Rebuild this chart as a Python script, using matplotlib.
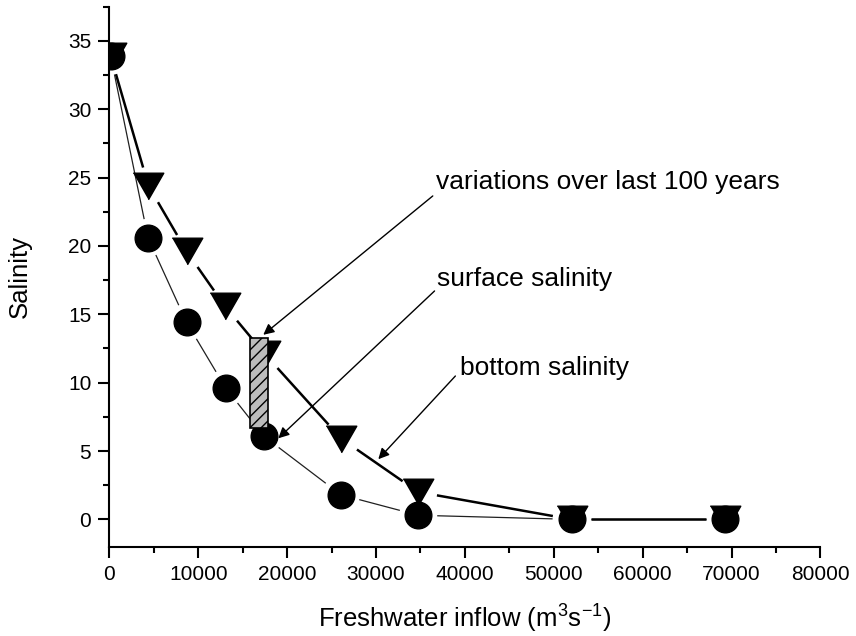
import matplotlib
matplotlib.use("Agg")
import matplotlib.pyplot as plt
from matplotlib.patches import Rectangle
from matplotlib.ticker import MultipleLocator
import numpy as np

plt.rcParams['font.family'] = ['Liberation Sans', 'DejaVu Sans']
plt.rcParams['mathtext.fontset'] = 'custom'
plt.rcParams['mathtext.rm'] = 'Liberation Sans'
plt.rcParams['hatch.linewidth'] = 1.0

# salinity vs freshwater inflow
flow_surface = [150, 4350, 8700, 13100, 17350, 26050, 34750, 52000, 69300]
surface = [33.9, 20.6, 14.4, 9.6, 6.1, 1.8, 0.3, 0.0, 0.0]
flow_bottom = [150, 4400, 8700, 13000, 17480, 26100, 34750, 52000, 69300]
bottom = [33.9, 24.4, 19.6, 15.6, 12.1, 5.9, 2.0, 0.0, 0.0]

# range of surface salinity over the last century
var_flow = (15830, 17890)
var_sal = (6.7, 13.3)

fig = plt.figure(figsize=(8.56, 6.36), dpi=100)
ax = fig.add_axes([0.1277, 0.1404, 0.8308, 0.8491])
ax.set_xlim(0, 80000)
ax.set_ylim(-2, 37.5)


def gapped_line(x, y, gap, **kw):
    # draw the polyline segment by segment, leaving a gap round each marker
    pts = ax.transData.transform(np.column_stack([x, y]))
    inv = ax.transData.inverted()
    for p0, p1 in zip(pts[:-1], pts[1:]):
        d = p1 - p0
        n = np.hypot(*d)
        if n <= 2 * gap:
            continue
        u = d / n
        a = inv.transform(p0 + u * gap)
        b = inv.transform(p1 - u * gap)
        ax.plot([a[0], b[0]], [a[1], b[1]], solid_capstyle='butt', **kw)


gapped_line(flow_surface, surface, 19, color='#202020', lw=0.9, zorder=2)
gapped_line(flow_bottom, bottom, 19, color='black', lw=1.8, zorder=2)

tri = [(-1, 0.87), (1, 0.87), (0, -0.87)]
ax.plot(flow_bottom, bottom, ls='none', marker=tri, ms=22, color='black',
        zorder=3)
ax.plot(flow_surface, surface, ls='none', marker='o', ms=19.2, color='black',
        zorder=3)

ax.add_patch(Rectangle((var_flow[0], var_sal[0]), var_flow[1] - var_flow[0],
                       var_sal[1] - var_sal[0], facecolor='#bcbcbc',
                       edgecolor='black', hatch='///', lw=1.2, zorder=4))

arrow = dict(arrowstyle='-|>', color='black', lw=1.0, mutation_scale=16,
             shrinkA=0, shrinkB=0)
ax.annotate('variations over last 100 years', xy=(17320, 13.5),
            xytext=(36700, 24.7), fontsize=19, va='center', ha='left',
            arrowprops=dict(arrow, relpos=(0, 0)), zorder=5)
ax.annotate('surface salinity', xy=(19010, 5.93), xytext=(36900, 17.6),
            fontsize=19, va='center', ha='left',
            arrowprops=dict(arrow, relpos=(0, 0.1)), zorder=5)
ax.annotate('bottom salinity', xy=(30260, 4.4), xytext=(39500, 11.1),
            fontsize=19, va='center', ha='left',
            arrowprops=dict(arrow, relpos=(-0.03, 0.15)), zorder=5)

for side in ('top', 'right'):
    ax.spines[side].set_visible(False)
for side in ('left', 'bottom'):
    ax.spines[side].set_linewidth(1.5)

ax.xaxis.set_major_locator(MultipleLocator(10000))
ax.xaxis.set_minor_locator(MultipleLocator(5000))
ax.yaxis.set_major_locator(MultipleLocator(5))
ax.yaxis.set_minor_locator(MultipleLocator(2.5))
ax.tick_params(which='major', direction='out', length=8, width=1.5,
               labelsize=15, pad=5)
ax.tick_params(which='minor', direction='out', length=4, width=1.5)

ax.set_xlabel(r'Freshwater inflow (m$\mathregular{^3}$s$\mathregular{^{-1}}$)',
              fontsize=18.5, labelpad=14)
ax.set_ylabel('Salinity', fontsize=18.5, labelpad=26)

fig.savefig('out.png', dpi=100)
